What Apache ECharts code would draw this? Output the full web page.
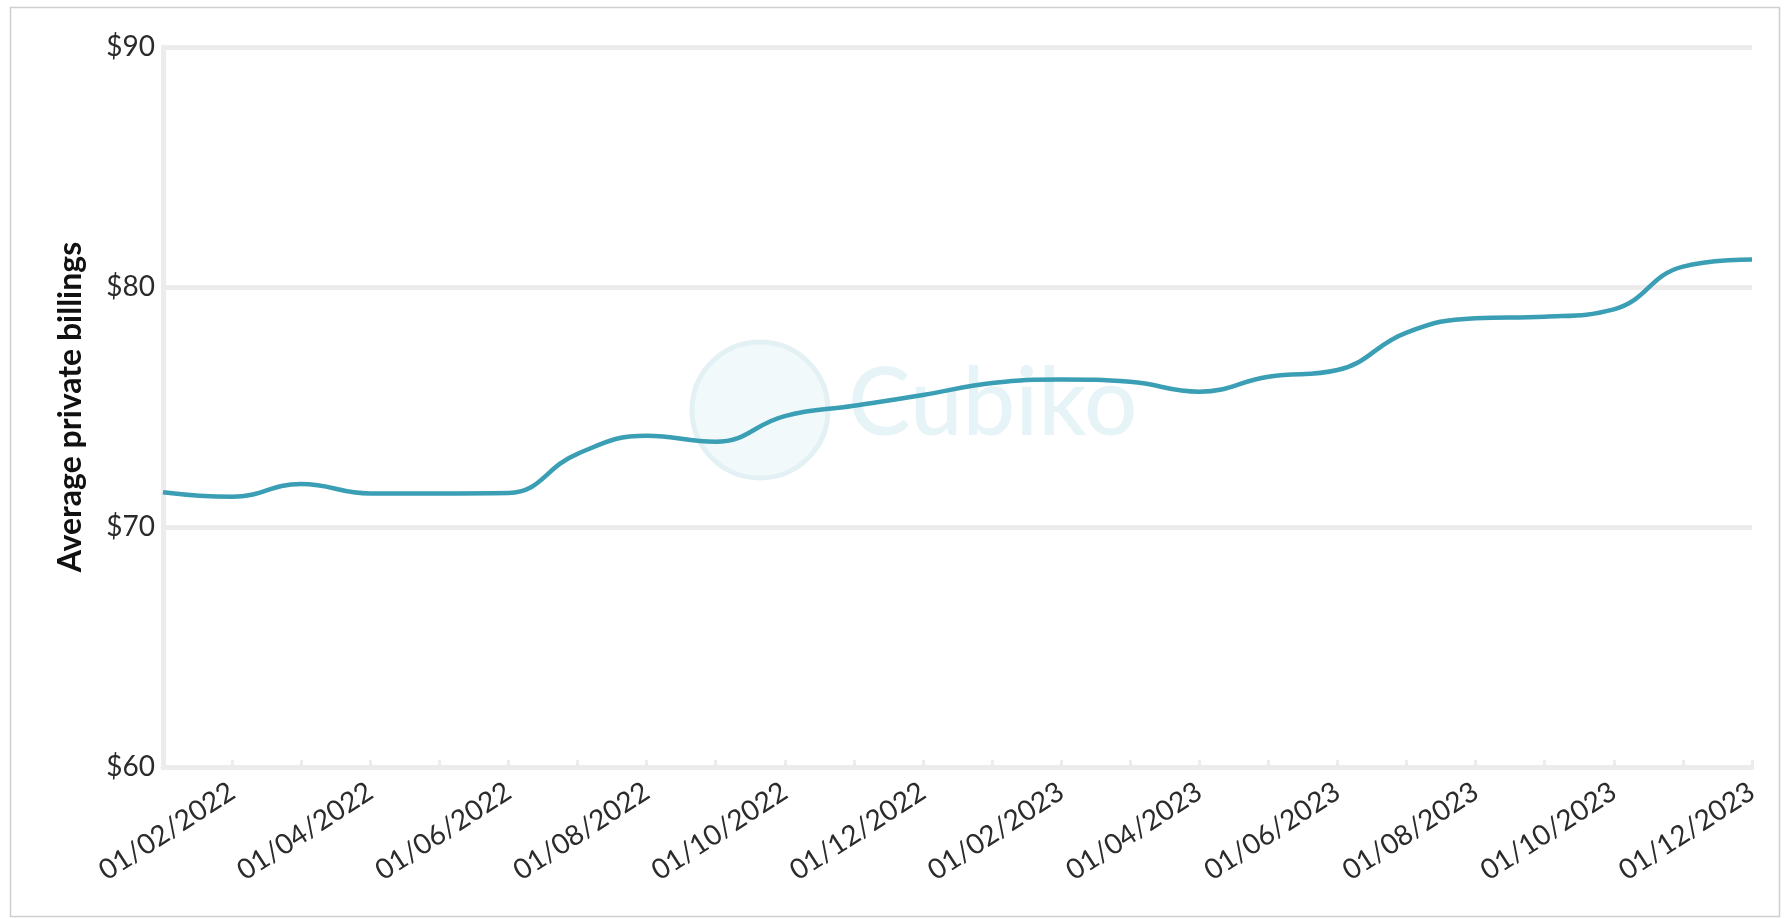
<!DOCTYPE html>
<html>
<head>
<meta charset="utf-8">
<script src="https://cdn.jsdelivr.net/npm/echarts@6/dist/echarts.min.js"></script>
<style>
  html, body { margin: 0; padding: 0; background: #fff; }
  #main { width: 1784px; height: 919px; }
</style>
</head>
<body>
<div id="main"></div>
<script>
// months, day/month/year
var months = ['01/01/2022','01/02/2022','01/03/2022','01/04/2022','01/05/2022','01/06/2022',
  '01/07/2022','01/08/2022','01/09/2022','01/10/2022','01/11/2022','01/12/2022',
  '01/01/2023','01/02/2023','01/03/2023','01/04/2023','01/05/2023','01/06/2023',
  '01/07/2023','01/08/2023','01/09/2023','01/10/2023','01/11/2023','01/12/2023'];
var billings = [71.45, 71.26, 71.79, 71.4, 71.4, 71.42,
  73.05, 73.8, 73.55, 74.62, 75.05, 75.5,
  76.0, 76.15, 76.05, 75.64, 76.26, 76.54,
  78.1, 78.7, 78.76, 79.07, 80.85, 81.15];
var yTicks = [60, 70, 80, 90];

var font = 'Lato, "Open Sans", sans-serif';
var gridGrey = '#ececec';

var myChart = echarts.init(document.getElementById('main'));

var option = {
  backgroundColor: '#fff',
  animation: false,
  graphic: [
    // outer frame
    { type: 'rect', left: 8, top: 5, shape: { width: 1769, height: 909 },
      style: { fill: 'none', stroke: '#cfcfcf', lineWidth: 1.5 }, z: -10 },
    // watermark
    { type: 'circle', shape: { cx: 760, cy: 410, r: 68 },
      style: { fill: '#f1f9fb', stroke: '#e3f1f5', lineWidth: 5 }, z: -5 },
    { type: 'text', left: 848, top: 358,
      style: { text: 'Cubiko', font: '500 94px Lato, sans-serif', fill: '#e7f4f7' }, z: -5 }
  ],
  grid: { left: 163, right: 32, top: 47, bottom: 152 },
  xAxis: {
    type: 'category',
    data: months,
    boundaryGap: false,
    axisLine: { lineStyle: { color: gridGrey, width: 5 } },
    axisTick: { show: true, inside: true, length: 7, interval: 0, lineStyle: { color: gridGrey, width: 3 } },
    axisLabel: {
      interval: function (i) { return i % 2 === 1; },
      rotate: 33,
      margin: 22,
      color: '#2b2b2b',
      fontSize: 28,
      fontFamily: font
    },
    splitLine: { show: false }
  },
  yAxis: {
    type: 'value',
    min: yTicks[0],
    max: yTicks[yTicks.length - 1],
    interval: 10,
    name: 'Average private billings',
    nameLocation: 'middle',
    nameGap: 76,
    nameTextStyle: { fontSize: 32, fontWeight: 'bold', color: '#111', fontFamily: font },
    axisLine: { show: true, lineStyle: { color: gridGrey, width: 5 } },
    axisTick: { show: false },
    axisLabel: {
      formatter: '${value}',
      color: '#2b2b2b',
      fontSize: 28,
      margin: 8,
      fontFamily: font
    },
    splitLine: { lineStyle: { color: gridGrey, width: 5 } }
  },
  series: [{
    type: 'line',
    data: billings,
    smooth: 0.45,
    symbol: 'none',
    lineStyle: { color: '#3a9eb4', width: 4.5 }
  }]
};

myChart.setOption(option);
</script>
</body>
</html>
